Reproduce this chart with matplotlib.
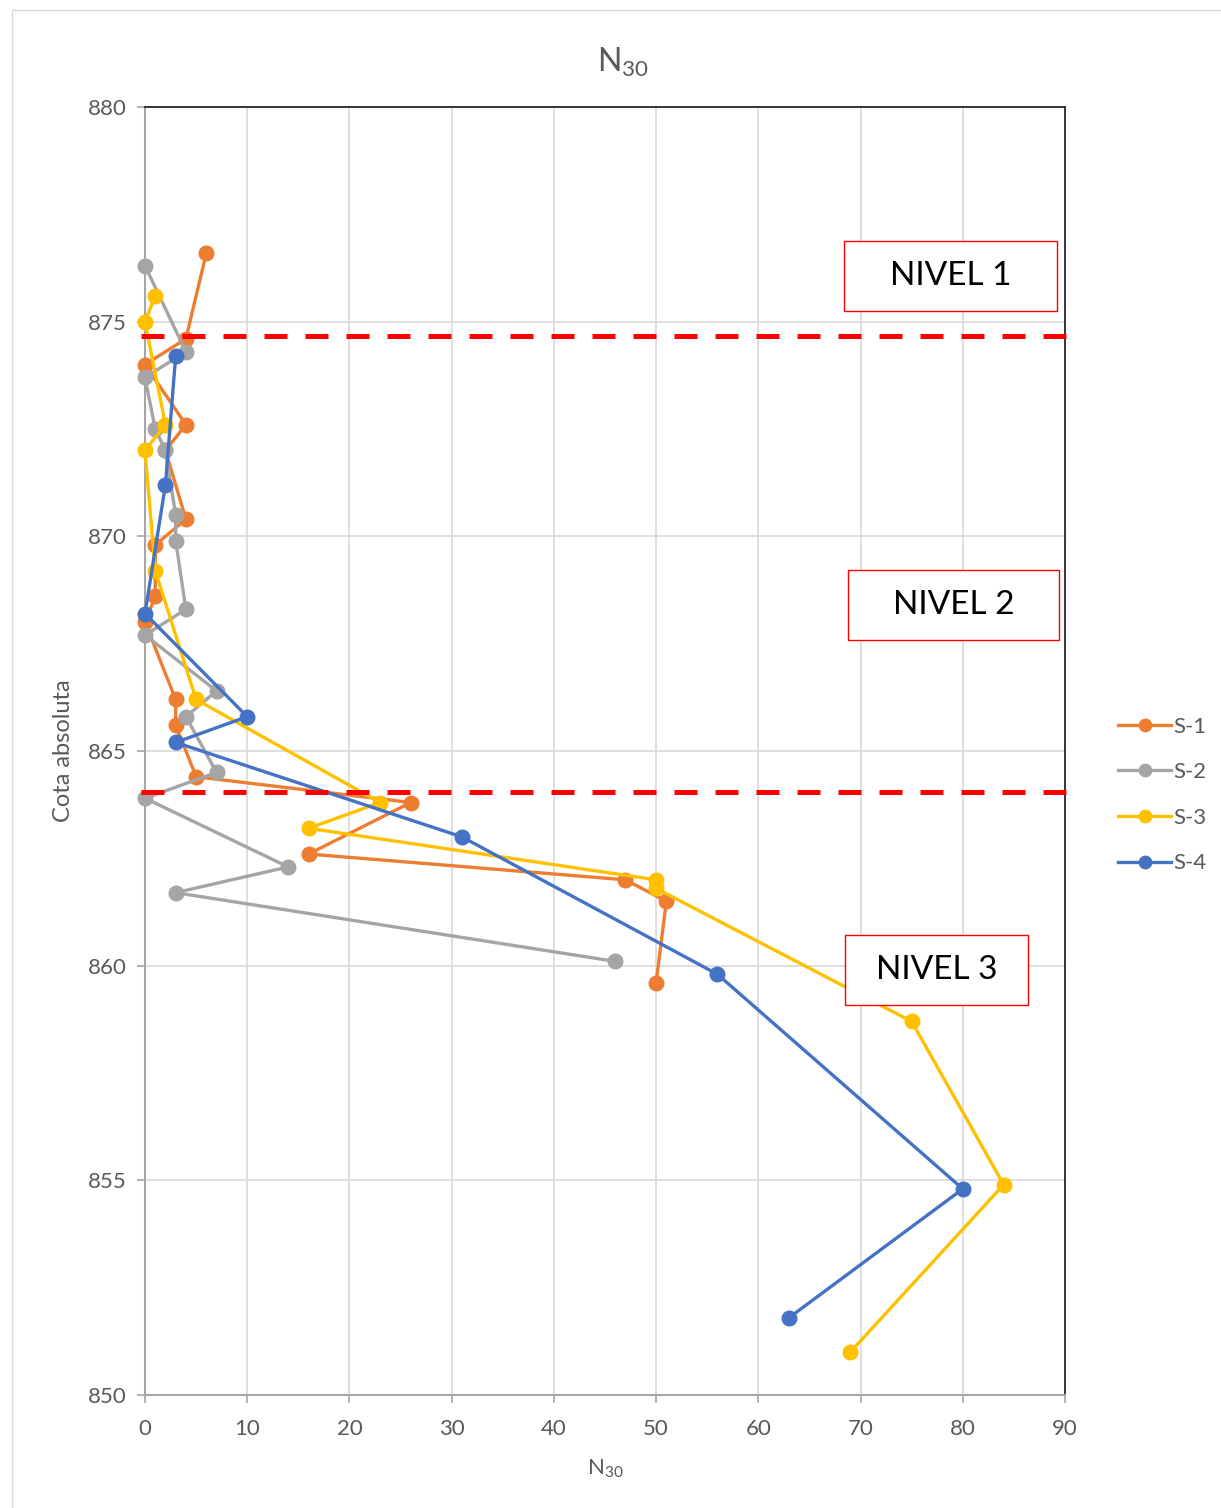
import numpy as np
import matplotlib
matplotlib.use('Agg')
import matplotlib.pyplot as plt
from matplotlib.patches import Rectangle

plt.rcParams['font.family'] = ['Lato', 'DejaVu Sans']
plt.rcParams['mathtext.fontset'] = 'custom'
plt.rcParams['mathtext.rm'] = 'Lato'
plt.rcParams['mathtext.it'] = 'Lato'

# Data (N30 vs cota)
s1_n = [6, 4, 0, 4, 2, 4, 1, 1, 0, 3, 3, 5, 26, 16, 47, 51, 50]
s1_z = [876.6, 874.6, 874.0, 872.6, 872.0, 870.4, 869.8, 868.6, 868.0, 866.2, 865.6, 864.4, 863.8, 862.6, 862.0, 861.5, 859.6]

s2_n = [0, 4, 0, 1, 2, 3, 3, 4, 0, 7, 4, 7, 0, 14, 3, 46]
s2_z = [876.3, 874.3, 873.7, 872.5, 872.0, 870.5, 869.9, 868.3, 867.7, 866.4, 865.8, 864.5, 863.9, 862.3, 861.7, 860.1]

s3_n = [1, 0, 2, 0, 1, 5, 23, 16, 50, 50, 75, 84, 69]
s3_z = [875.6, 875.0, 872.6, 872.0, 869.2, 866.2, 863.8, 863.2, 862.0, 861.8, 858.7, 854.9, 851.0]

s4_n = [3, 2, 0, 10, 3, 31, 56, 80, 63]
s4_z = [874.2, 871.2, 868.2, 865.8, 865.2, 863.0, 859.8, 854.8, 851.8]

series_names = ['S-1', 'S-2', 'S-3', 'S-4']
series_colors = ['#ED7D31', '#A5A5A5', '#FFC000', '#4472C4']

nivel_limits = [874.67, 864.05]
nivel_labels = ['NIVEL 1', 'NIVEL 2', 'NIVEL 3']
nivel_box_x = [68.4, 68.8, 68.5]
nivel_box_w = [20.85, 20.65, 17.9]
nivel_box_y = [875.25, 867.58, 859.08]
box_h = 1.63

fig = plt.figure(figsize=(12.21, 15.08), dpi=100)
ax = fig.add_axes([145/1221, 1 - 1395/1508, 920/1221, 1288/1508])

# chart-area outline
fig.patches.append(Rectangle((12/1221, -0.01), 1.0, 1 - 10/1508 + 0.01, transform=fig.transFigure,
                             fill=False, edgecolor='#d9d9d9', linewidth=1.0))

for n, z, name, c in zip([s1_n, s2_n, s3_n, s4_n], [s1_z, s2_z, s3_z, s4_z], series_names, series_colors):
    ax.plot(n, z, color=c, linewidth=2.4, marker='o', markersize=10.5, label=name, zorder=3, clip_on=False)

for lim in nivel_limits:
    ax.plot([-0.4, 90.2], [lim, lim], color='#FF0000', linewidth=3.6, linestyle=(0, (4.6, 3.6)),
            zorder=4, clip_on=False)

for lab, bx, bw, by in zip(nivel_labels, nivel_box_x, nivel_box_w, nivel_box_y):
    ax.add_patch(Rectangle((bx, by), bw, box_h, facecolor='white', edgecolor='#FF0000',
                           linewidth=1.0, zorder=5))
    ax.text(bx + bw / 2, by + box_h / 2, lab, ha='center', va='center', fontsize=24,
            color='black', zorder=6)

ax.set_xlim(0, 90)
ax.set_ylim(850, 880)
ax.set_xticks(np.arange(0, 91, 10))
ax.set_yticks(np.arange(850, 881, 5))
ax.grid(True, color='#d9d9d9', linewidth=1.2, zorder=0)
ax.set_axisbelow(True)

for s in ['top', 'right']:
    ax.spines[s].set_color('#262626')
    ax.spines[s].set_linewidth(1.3)
for s in ['left', 'bottom']:
    ax.spines[s].set_color('#a6a6a6')
    ax.spines[s].set_linewidth(1.5)

ax.tick_params(axis='both', direction='out', length=6, width=1.2, color='#a6a6a6',
               labelsize=16, labelcolor='#595959', pad=7)
ax.tick_params(axis='x', pad=11)

fig.text(623/1221, 1 - 62/1508, r'N$_{30}$', fontsize=23, color='#595959', ha='center', va='center')
ax.set_xlabel(r'N$_{30}$', fontsize=16, color='#595959', labelpad=14)
ax.set_ylabel('Cota absoluta', fontsize=17, color='#595959', labelpad=10)

leg = ax.legend(loc='center left', bbox_to_anchor=(1118/1221, 1 - 795/1508), bbox_transform=fig.transFigure,
                frameon=False, fontsize=16, labelcolor='#595959', handlelength=2.4, handletextpad=0.1,
                labelspacing=1.15, markerscale=0.85, borderpad=0, borderaxespad=0)

plt.savefig('out.png', dpi=100)
